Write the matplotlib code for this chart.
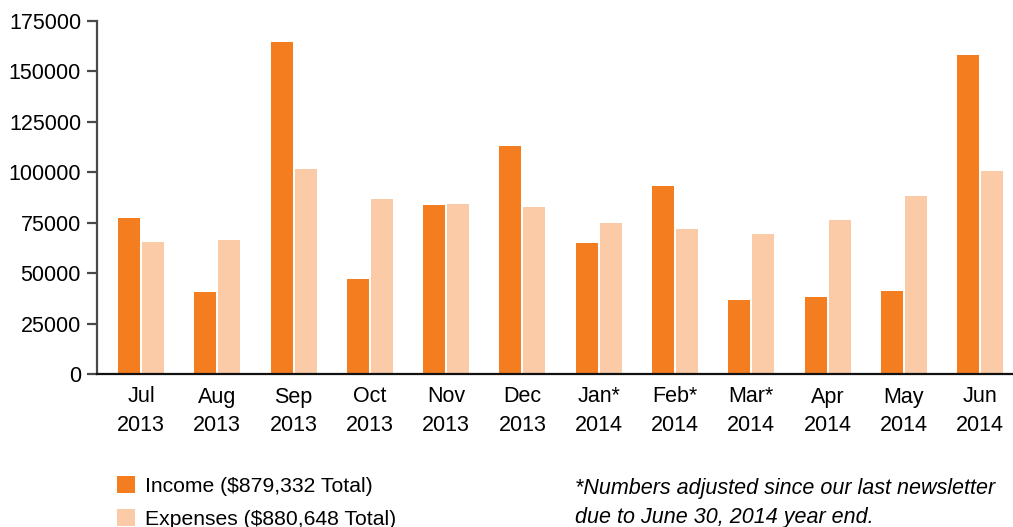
import matplotlib.pyplot as plt
import numpy as np

plt.rcParams['font.family'] = ['Liberation Sans', 'DejaVu Sans']

months = ['Jul\n2013', 'Aug\n2013', 'Sep\n2013', 'Oct\n2013', 'Nov\n2013', 'Dec\n2013',
          'Jan*\n2014', 'Feb*\n2014', 'Mar*\n2014', 'Apr\n2014', 'May\n2014', 'Jun\n2014']
income = [77400, 40700, 164500, 47100, 83800, 113000, 65000, 93200, 36700, 38200, 41200, 158200]
expenses = [65400, 66400, 101600, 86800, 84300, 82800, 74900, 71900, 69400, 76400, 88200, 100600]
yticks = [0, 25000, 50000, 75000, 100000, 125000, 150000, 175000]

c_inc = '#f47d20'
c_exp = '#fbcba7'

W, H = 1013, 527
fig = plt.figure(figsize=(W / 100, H / 100), dpi=100)
ax = fig.add_axes([97 / W, 1 - 374 / H, 1 - 97 / W, (374 - 20.7) / H])

x = np.arange(len(months))
bw = 0.288
off = 0.157
b1 = ax.bar(x - off, income, bw, color=c_inc, label='Income ($879,332 Total)')
b2 = ax.bar(x + off, expenses, bw, color=c_exp, label='Expenses ($880,648 Total)')

ax.set_xlim(-0.577, 11.43)
ax.set_ylim(0, 175000)
ax.set_yticks(yticks)
ax.set_yticklabels([str(v) for v in yticks])
ax.set_xticks(x)
ax.set_xticklabels(months, linespacing=1.45)

for s in ['top', 'right']:
    ax.spines[s].set_visible(False)
ax.spines['left'].set_color('#4a4a4a')
ax.spines['left'].set_linewidth(1.6)
ax.spines['bottom'].set_color('#111111')
ax.spines['bottom'].set_linewidth(1.6)
ax.tick_params(axis='y', length=7.5, width=1.6, color='#4a4a4a', labelsize=15.5, pad=4)
ax.tick_params(axis='x', length=0, labelsize=15.5, pad=9)

fig.legend(handles=[b1, b2], loc='upper left', bbox_to_anchor=(100 / W, 1 - 459 / H),
           frameon=False, fontsize=15.2, handlelength=0.86, handleheight=0.86,
           handletextpad=0.47, labelspacing=0.63, borderpad=0.3)

fig.text(575 / W, 1 - 503 / H,
         '*Numbers adjusted since our last newsletter\ndue to June 30, 2014 year end.',
         fontsize=15.5, style='italic', va='center', ha='left', linespacing=1.47)

fig.savefig('out.png', dpi=100)
